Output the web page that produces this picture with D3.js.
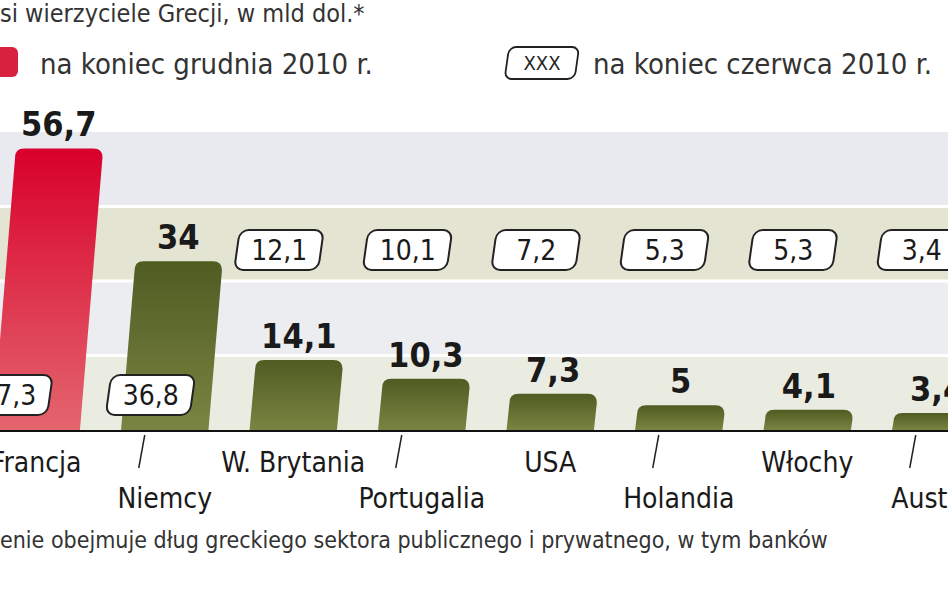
<!DOCTYPE html>
<html><head><meta charset="utf-8">
<script src="https://cdn.jsdelivr.net/npm/d3@7.9.0/dist/d3.min.js"></script>
<style>body{margin:0;background:#fff}svg{display:block}</style>
</head><body><svg id="chart" width="948" height="593"></svg>
<script>
const countries = ['Francja','Niemcy','W. Brytania','Portugalia','USA','Holandia','Włochy','Austria'];
const dec2010 = [56.7, 34, 14.1, 10.3, 7.3, 5, 4.1, 3.4];
const jun2010 = [57.3, 36.8, 12.1, 10.1, 7.2, 5.3, 5.3, 3.4];
const fmt = v => String(v).replace('.', ',');

const svg = d3.select('#chart');
const font = "'DejaVu Sans Condensed','DejaVu Sans',sans-serif";
const base = 430;

const x = d3.scaleBand().domain(countries).range([-28, 1000]).paddingInner(0.32).paddingOuter(0.16);
const y = d3.scaleLinear().domain([0, 60]).range([base, 132]);

// background bands
const bands = [[0,15,'#ebece1'],[15,30,'#ecedf0'],[30,45,'#e4e4d3'],[45,60,'#e8eaf0']];
svg.append('g').selectAll('rect').data(bands).join('rect')
  .attr('x', 0).attr('width', 948)
  .attr('y', d => y(d[1])).attr('height', d => y(d[0]) - y(d[1]))
  .attr('fill', d => d[2]);
svg.append('g').selectAll('line').data([15,30,45]).join('line')
  .attr('x1', 0).attr('x2', 948).attr('y1', d => y(d)).attr('y2', d => y(d))
  .attr('stroke', '#fff').attr('stroke-width', 3);

const defs = svg.append('defs');
const gr = defs.append('linearGradient').attr('id','gRed').attr('x1',0).attr('y1',0).attr('x2',0).attr('y2',1);
gr.append('stop').attr('offset',0).attr('stop-color','#d8002c');
gr.append('stop').attr('offset',1).attr('stop-color','#e4666e');
const gg = defs.append('linearGradient').attr('id','gGreen').attr('x1',0).attr('y1',0).attr('x2',0).attr('y2',1);
gg.append('stop').attr('offset',0).attr('stop-color','#4f5c22');
gg.append('stop').attr('offset',1).attr('stop-color','#7a8442');

// bars (slightly slanted)
const bars = svg.append('g');
countries.forEach((c, i) => {
  const x0 = x(c), w = x.bandwidth(), yt = y(dec2010[i]);
  const h = base - yt, sk = h * 0.08, r = 9;
  const p = d3.path();
  p.moveTo(x0, base);
  p.lineTo(x0 + sk, yt + r);
  p.quadraticCurveTo(x0 + sk, yt, x0 + sk + r, yt);
  p.lineTo(x0 + sk + w - r, yt);
  p.quadraticCurveTo(x0 + sk + w, yt, x0 + sk + w, yt + r);
  p.lineTo(x0 + w, base);
  p.closePath();
  bars.append('path').attr('d', p.toString()).attr('fill', i === 0 ? 'url(#gRed)' : 'url(#gGreen)');
  bars.append('text').attr('x', x0 + w / 2 + sk).attr('y', yt - 12)
    .attr('text-anchor', 'middle').attr('font-family', font).attr('font-weight', 'bold')
    .attr('font-size', 34).attr('fill', '#1a1a1a').text(fmt(dec2010[i]));
});

// June boxes
function box(g, cx, cy, w, label, fs) {
  const s = g.append('g').attr('transform', `translate(${cx},${cy}) skewX(-8)`);
  s.append('rect').attr('x', -w / 2).attr('y', -18).attr('width', w).attr('height', 40).attr('rx', 9)
    .attr('fill', '#fff').attr('stroke', '#222').attr('stroke-width', 2);
  g.append('text').attr('x', cx).attr('y', cy + 12).attr('text-anchor', 'middle')
    .attr('font-family', font).attr('font-size', fs).attr('fill', '#1a1a1a').text(label);
}
const boxes = svg.append('g');
countries.forEach((c, i) => {
  const cx = x(c) + x.bandwidth() / 2;
  const cy = i < 2 ? 393 : 248;
  box(boxes, i === 0 ? cx - 28 : cx - 14, cy, 84, fmt(jun2010[i]), 28);
});

// axis
svg.append('line').attr('x1', 0).attr('x2', 948).attr('y1', base + 1).attr('y2', base + 1)
  .attr('stroke', '#111').attr('stroke-width', 2);
const labels = svg.append('g').attr('font-family', font).attr('font-size', 28).attr('fill', '#1a1a1a');
countries.forEach((c, i) => {
  const cx = x(c) + x.bandwidth() / 2;
  const low = i % 2 === 1;
  if (low) labels.append('line').attr('x1', cx - 20).attr('x2', cx - 26).attr('y1', 435).attr('y2', 468)
    .attr('stroke', '#222').attr('stroke-width', 1.5);
  labels.append('text').attr('x', cx).attr('y', low ? 508 : 472).attr('text-anchor', 'middle').text(c);
});

// title, legend, note
svg.append('text').attr('x', 0).attr('y', 22).attr('font-family', font).attr('font-size', 25)
  .attr('fill', '#333').text('si wierzyciele Grecji, w mld dol.*');
svg.append('rect').attr('x', -10).attr('y', 47).attr('width', 28).attr('height', 30).attr('rx', 6).attr('fill', '#d8213f');
svg.append('text').attr('x', 40).attr('y', 74).attr('font-family', font).attr('font-size', 29)
  .attr('fill', '#333').text('na koniec grudnia 2010 r.');
const lg = svg.append('g').attr('transform', 'translate(542,62) skewX(-8)');
lg.append('rect').attr('x', -35).attr('y', -15).attr('width', 70).attr('height', 32).attr('rx', 7)
  .attr('fill', '#fff').attr('stroke', '#222').attr('stroke-width', 1.8);
svg.append('text').attr('x', 542).attr('y', 70).attr('text-anchor', 'middle').attr('font-family', font)
  .attr('font-size', 20).attr('fill', '#222').text('XXX');
svg.append('text').attr('x', 593).attr('y', 74).attr('font-family', font).attr('font-size', 29)
  .attr('fill', '#333').text('na koniec czerwca 2010 r.');
svg.append('text').attr('x', 0).attr('y', 548).attr('font-family', font).attr('font-size', 23)
  .attr('fill', '#333').text('enie obejmuje dług greckiego sektora publicznego i prywatnego, w tym banków');
</script></body></html>
